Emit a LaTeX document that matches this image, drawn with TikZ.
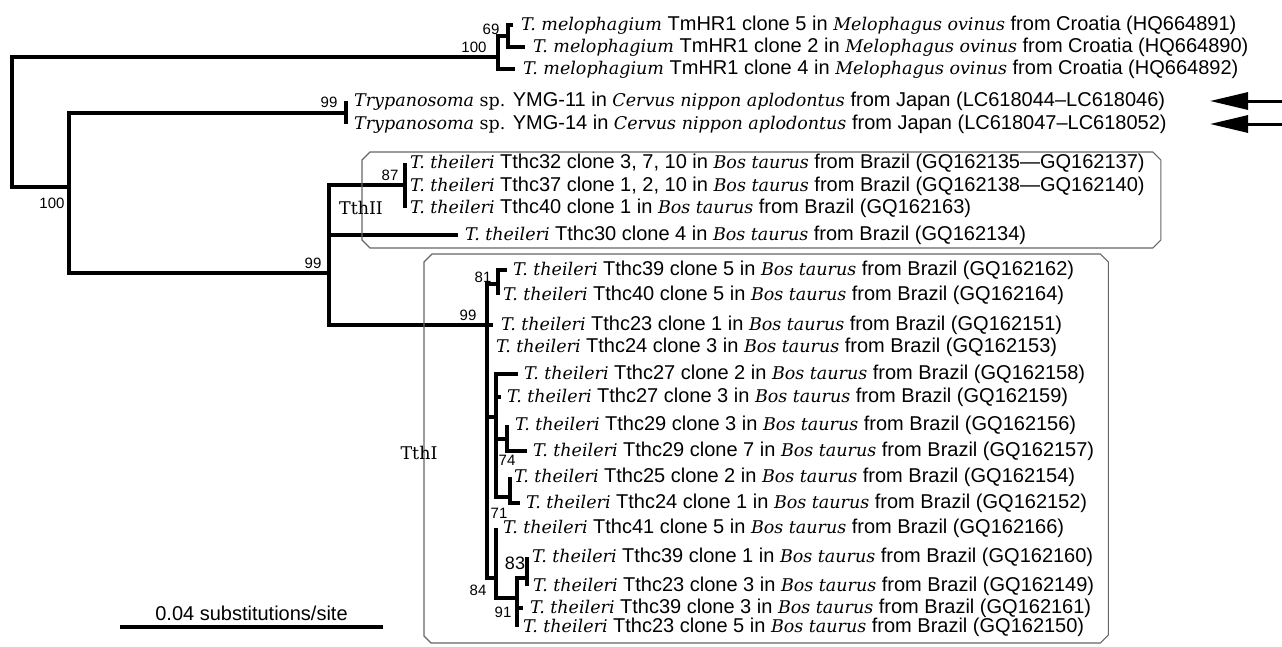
\documentclass[tikz,border=0pt]{standalone}
\usepackage{fontspec}
\setmainfont{Liberation Sans}
\newfontfamily\serifnm{DejaVu Serif}[Scale=0.875]
\usetikzlibrary{arrows.meta,positioning,calc}
\newcommand{\tx}[1]{{\serifnm\itshape #1}}
\newcommand{\bosbr}{in \tx{Bos taurus} from Brazil}

\begin{document}
\begin{tikzpicture}[x=1pt,y=-1pt,
  branch/.style={line width=3.2pt,line join=miter},
  taxlabel/.style={inner sep=0pt,anchor=west,text height=14pt,text depth=4pt,
    font=\fontsize{20}{24}\selectfont},
  boot/.style={inner sep=0pt,font=\fontsize{15}{17}\selectfont},
  groupbox/.style={draw=black!60,line width=1.1pt},
  grouplabel/.style={inner sep=0pt,font=\fontsize{20}{24}\selectfont\serifnm},
  pointer/.style={line width=3pt,-{Triangle[length=38pt,width=17pt]}}]
  \useasboundingbox (0,0) rectangle (1282,646);
  % Internal nodes
  \coordinate (root) at (12,120);
  \coordinate (M100) at (498,57);
  \coordinate (M69) at (508,36);
  \coordinate (A100) at (69,187);
  \coordinate (Y99) at (346,113);
  \coordinate (B99) at (329,273);
  \coordinate (T87) at (405,185);
  \coordinate (I99) at (487,325);
  \coordinate (N81) at (498,284);
  \coordinate (N27) at (496,417);
  \coordinate (N74) at (507,439);
  \coordinate (N71) at (510,497);
  \coordinate (N84) at (496,578);
  \coordinate (N91) at (517,598);
  \coordinate (N83) at (527,578);
  % Tips
  \coordinate (t1) at (513,25);
  \coordinate (t2) at (525,47);
  \coordinate (t3) at (515,69);
  \coordinate (t4) at (346,101);
  \coordinate (t5) at (346,124);
  \coordinate (t6) at (405,163);
  \coordinate (t7) at (405,186);
  \coordinate (t8) at (405,208);
  \coordinate (t9) at (458,235);
  \coordinate (t10) at (507,270);
  \coordinate (t11) at (498,295);
  \coordinate (t12) at (493,325);
  \coordinate (t13) at (487,347);
  \coordinate (t14) at (518,374);
  \coordinate (t15) at (501,397);
  \coordinate (t16) at (507,425);
  \coordinate (t17) at (527,451);
  \coordinate (t18) at (510,477);
  \coordinate (t19) at (520,503);
  \coordinate (t20) at (496,528);
  \coordinate (t21) at (527,557);
  \coordinate (t22) at (527,586);
  \coordinate (t23) at (523,608);
  \coordinate (t24) at (517,627);
  % Branches
  \draw[branch] (root) |- (M100) (root) |- (A100);
  \draw[branch] (M100) |- (M69) (M100) |- (t3) (M69) |- (t1) (M69) |- (t2);
  \draw[branch] (A100) |- (Y99) (A100) |- (B99) (Y99) |- (t4) (Y99) |- (t5);
  \draw[branch] (B99) |- (T87) (B99) |- (t9) (B99) |- (I99);
  \draw[branch] (T87) |- (t6) (T87) |- (t7) (T87) |- (t8);
  \draw[branch] (I99) |- (N81) (I99) |- (t12) (I99) |- (t13) (I99) |- (N27) (I99) |- (N84);
  \draw[branch] (N81) |- (t10) (N81) |- (t11);
  \draw[branch] (N27) |- (t14) (N27) |- (t15) (N27) |- (N74) (N27) |- (N71);
  \draw[branch] (N74) |- (t16) (N74) |- (t17) (N71) |- (t18) (N71) |- (t19);
  \draw[branch] (N84) |- (t20) (N84) |- (N91);
  \draw[branch] (N91) |- (N83) (N91) |- (t23) (N91) |- (t24);
  \draw[branch] (N83) |- (t21) (N83) |- (t22);
  % Bootstrap values
  \node[boot] (b69) at (491,29) {69};
  \node[boot] (b100m) at (474,47) {100};
  \node[boot] (b99y) at (329,102) {99};
  \node[boot] (b100a) at (52,203) {100};
  \node[boot] (b99b) at (313,263) {99};
  \node[boot] (b87) at (390,175) {87};
  \node[boot] (b81) at (483,277) {81};
  \node[boot] (b99i) at (468,315) {99};
  \node[boot] (b74) at (507,460) {74};
  \node[boot] (b71) at (499,513) {71};
  \node[boot,font=\fontsize{18}{20}\selectfont] (b83) at (515,563) {83};
  \node[boot] (b84) at (478,590) {84};
  \node[boot] (b91) at (503,612) {91};
  % Taxon labels
  \node[taxlabel,right=8pt of t1] (L1) {\tx{T. melophagium} TmHR1 clone 5 in \tx{Melophagus ovinus} from Croatia (HQ664891)};
  \node[taxlabel,right=8pt of t2] (L2) {\tx{T. melophagium} TmHR1 clone 2 in \tx{Melophagus ovinus} from Croatia (HQ664890)};
  \node[taxlabel,right=8pt of t3] (L3) {\tx{T. melophagium} TmHR1 clone 4 in \tx{Melophagus ovinus} from Croatia (HQ664892)};
  \node[taxlabel,right=8pt of t4] (L4) {\tx{Trypanosoma} {\serifnm sp.} YMG-11 in \tx{Cervus nippon aplodontus} from Japan (LC618044–LC618046)};
  \node[taxlabel,right=8pt of t5] (L5) {\tx{Trypanosoma} {\serifnm sp.} YMG-14 in \tx{Cervus nippon aplodontus} from Japan (LC618047–LC618052)};
  \node[taxlabel,right=5pt of t6] (L6) {\tx{T. theileri} Tthc32 clone 3, 7, 10 \bosbr{} (GQ162135—GQ162137)};
  \node[taxlabel,right=5pt of t7] (L7) {\tx{T. theileri} Tthc37 clone 1, 2, 10 \bosbr{} (GQ162138—GQ162140)};
  \node[taxlabel,right=5pt of t8] (L8) {\tx{T. theileri} Tthc40 clone 1 \bosbr{} (GQ162163)};
  \node[taxlabel,right=7pt of t9] (L9) {\tx{T. theileri} Tthc30 clone 4 \bosbr{} (GQ162134)};
  \node[taxlabel,right=6pt of t10] (L10) {\tx{T. theileri} Tthc39 clone 5 \bosbr{} (GQ162162)};
  \node[taxlabel,right=5pt of t11] (L11) {\tx{T. theileri} Tthc40 clone 5 \bosbr{} (GQ162164)};
  \node[taxlabel,right=8pt of t12] (L12) {\tx{T. theileri} Tthc23 clone 1 \bosbr{} (GQ162151)};
  \node[taxlabel,right=9pt of t13] (L13) {\tx{T. theileri} Tthc24 clone 3 \bosbr{} (GQ162153)};
  \node[taxlabel,right=6pt of t14] (L14) {\tx{T. theileri} Tthc27 clone 2 \bosbr{} (GQ162158)};
  \node[taxlabel,right=6pt of t15] (L15) {\tx{T. theileri} Tthc27 clone 3 \bosbr{} (GQ162159)};
  \node[taxlabel,right=8pt of t16] (L16) {\tx{T. theileri} Tthc29 clone 3 \bosbr{} (GQ162156)};
  \node[taxlabel,right=6pt of t17] (L17) {\tx{T. theileri} Tthc29 clone 7 \bosbr{} (GQ162157)};
  \node[taxlabel,right=4pt of t18] (L18) {\tx{T. theileri} Tthc25 clone 2 \bosbr{} (GQ162154)};
  \node[taxlabel,right=6pt of t19] (L19) {\tx{T. theileri} Tthc24 clone 1 \bosbr{} (GQ162152)};
  \node[taxlabel,right=7pt of t20] (L20) {\tx{T. theileri} Tthc41 clone 5 \bosbr{} (GQ162166)};
  \node[taxlabel,right=5pt of t21] (L21) {\tx{T. theileri} Tthc39 clone 1 \bosbr{} (GQ162160)};
  \node[taxlabel,right=6pt of t22] (L22) {\tx{T. theileri} Tthc23 clone 3 \bosbr{} (GQ162149)};
  \node[taxlabel,right=7pt of t23] (L23) {\tx{T. theileri} Tthc39 clone 3 \bosbr{} (GQ162161)};
  \node[taxlabel,right=6pt of t24] (L24) {\tx{T. theileri} Tthc23 clone 5 \bosbr{} (GQ162150)};
  % Group boxes
  \coordinate (IItop) at (0,152);
  \coordinate (IIbot) at (0,248);
  \coordinate (IIr) at ($(L6.east)+(16,0)$);
  \draw[groupbox] (362,160) -- (370,152) -- ($(IIr|-IItop)+(-8,0)$) -- ($(IIr|-IItop)+(0,8)$)
    -- ($(IIr|-IIbot)+(0,-8)$) -- ($(IIr|-IIbot)+(-8,0)$) -- (370,248) -- (362,240) -- cycle;
  \coordinate (Itop) at (0,254);
  \coordinate (Ibot) at (0,643);
  \coordinate (Ir) at ($(L17.east)+(14,0)$);
  \draw[groupbox] (424,262) -- (432,254) -- ($(Ir|-Itop)+(-8,0)$) -- ($(Ir|-Itop)+(0,8)$)
    -- ($(Ir|-Ibot)+(0,-8)$) -- ($(Ir|-Ibot)+(-8,0)$) -- (431,643) -- (424,636) -- cycle;
  \node[grouplabel] (TthII) at (361,208) {TthII};
  \node[grouplabel] (TthI) at (419,453) {TthI};
  % Arrows to the new isolates
  \coordinate (p4) at (1282,101);
  \coordinate (p4tip) at (1210,101);
  \coordinate (p5) at (1282,124);
  \coordinate (p5tip) at (1210,124);
  \draw[pointer] (p4) -- (p4tip);
  \draw[pointer] (p5) -- (p5tip);
  % Scale bar
  \coordinate (sb1) at (120,627);
  \coordinate (sb2) at (383,627);
  \draw[branch] (sb1) -- (sb2) node[midway,above=5pt,inner sep=0pt,font=\fontsize{20}{24}\selectfont] (sbl) {0.04 substitutions/site};
\end{tikzpicture}
\end{document}
